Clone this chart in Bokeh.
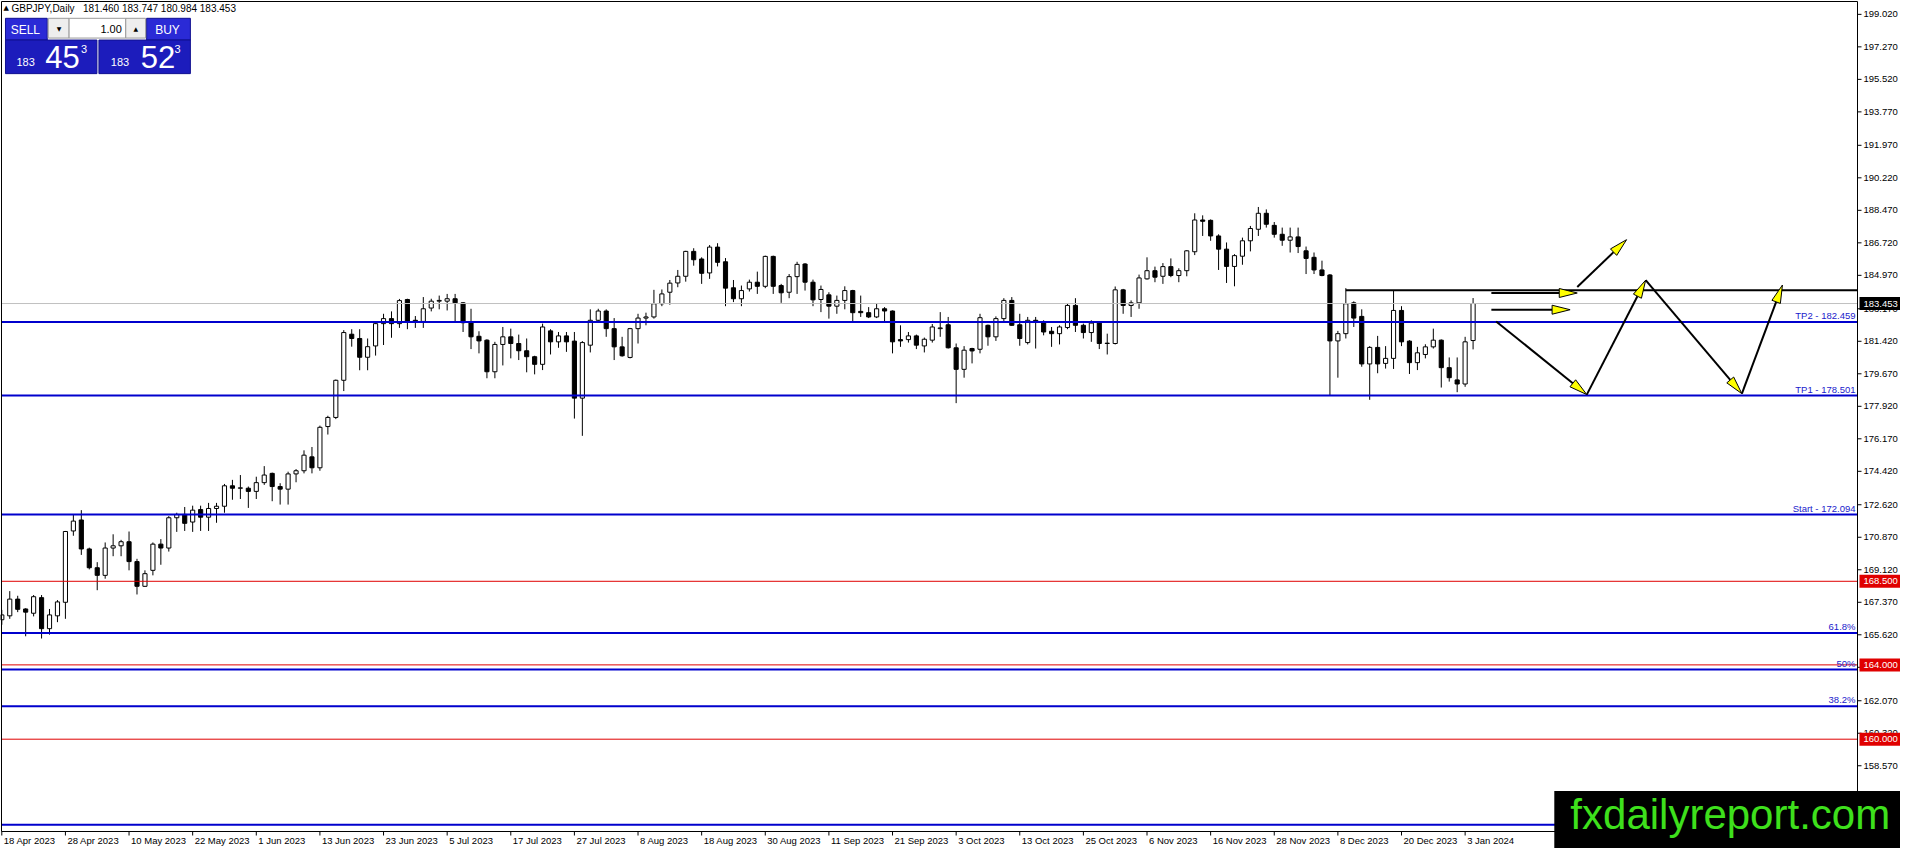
from bokeh.plotting import figure
from bokeh.models import Range1d, Label, BoxAnnotation, ColumnDataSource
from bokeh.embed import file_html
from bokeh.resources import INLINE

# ---------------- data ----------------
symbol = "GBPJPY"
timeframe = "Daily"

opens = [166.43, 166.64, 167.54, 167.01, 166.78, 167.62, 165.95, 166.64, 167.37, 171.21,
         171.80, 170.24, 169.23, 168.82, 170.29, 170.41, 170.63, 169.56, 168.23, 169.09,
         170.50, 170.29, 171.92, 172.10, 171.69, 172.36, 171.95, 172.42, 172.54, 173.64,
         173.51, 173.51, 173.34, 173.81, 174.31, 173.60, 173.46, 174.28, 174.45, 175.20,
         174.61, 176.83, 177.32, 179.32, 181.80, 181.57, 180.56, 181.17, 182.37, 182.64,
         182.37, 183.67, 182.55, 182.49, 183.21, 183.58, 183.58, 183.71, 183.49, 182.42,
         181.69, 181.48, 179.78, 181.25, 181.66, 181.30, 180.91, 180.59, 180.18, 181.98,
         181.39, 181.71, 181.43, 178.36, 181.21, 182.55, 183.05, 182.10, 181.12, 180.55,
         182.10, 182.67, 182.73, 183.44, 184.06, 184.56, 184.92, 186.26, 185.85, 185.10,
         186.49, 185.70, 184.30, 183.71, 184.24, 184.60, 184.38, 185.99, 184.42, 184.06,
         184.90, 185.58, 184.60, 183.67, 183.92, 183.31, 183.62, 184.15, 183.03, 182.96,
         182.73, 183.17, 183.05, 181.51, 181.51, 181.71, 181.17, 181.48, 182.10, 182.31,
         181.07, 179.91, 181.03, 180.99, 182.28, 181.66, 182.64, 183.62, 182.31, 181.35,
         182.55, 182.46, 181.96, 181.83, 182.16, 183.35, 182.28, 181.89, 182.40, 181.30,
         181.30, 184.19, 183.35, 183.49, 184.78, 185.22, 184.92, 185.44, 184.96, 185.22,
         186.24, 187.95, 187.93, 187.09, 186.38, 185.45, 186.00, 186.83, 187.45, 188.31,
         187.66, 187.18, 186.86, 187.04, 186.29, 185.94, 185.26, 184.99, 181.44, 181.83,
         183.49, 182.76, 180.20, 181.09, 180.23, 180.50, 183.08, 181.43, 180.27, 180.71,
         181.12, 181.48, 180.00, 179.34, 179.12, 181.460]
highs = [166.96, 167.97, 167.72, 167.05, 167.76, 167.76, 167.01, 167.49, 171.21, 172.10,
         172.33, 170.31, 169.53, 170.59, 171.03, 170.73, 171.18, 169.71, 169.09, 170.59,
         170.77, 172.01, 172.19, 172.50, 172.57, 172.57, 172.72, 172.72, 173.74, 173.96,
         174.22, 173.60, 174.13, 174.70, 174.35, 173.78, 174.40, 174.54, 175.55, 175.73,
         176.88, 177.41, 179.36, 182.02, 182.07, 182.07, 181.57, 182.42, 182.90, 183.03,
         183.70, 183.71, 182.78, 183.80, 183.71, 183.88, 183.97, 183.97, 183.53, 183.17,
         181.96, 181.53, 181.39, 182.19, 182.10, 181.78, 181.57, 180.64, 182.37, 182.07,
         181.92, 181.92, 181.92, 181.43, 183.14, 183.17, 183.14, 182.67, 181.66, 182.14,
         182.90, 182.96, 184.19, 184.21, 184.72, 185.26, 186.29, 186.43, 185.94, 186.60,
         186.70, 185.90, 184.72, 184.42, 184.74, 185.17, 186.03, 186.03, 184.51, 185.04,
         185.70, 185.63, 184.74, 184.42, 184.06, 183.88, 184.38, 184.19, 183.88, 183.26,
         183.44, 183.26, 183.08, 182.28, 181.92, 181.78, 181.62, 182.35, 182.99, 182.73,
         181.30, 181.16, 181.07, 182.90, 182.32, 182.76, 183.74, 183.80, 182.90, 182.73,
         182.73, 182.55, 182.19, 182.28, 183.44, 183.74, 182.37, 182.55, 182.46, 181.83,
         184.37, 184.24, 183.62, 185.01, 185.94, 185.44, 185.63, 185.88, 185.35, 186.33,
         188.31, 188.20, 187.98, 187.18, 186.74, 186.11, 187.00, 187.63, 188.65, 188.52,
         187.84, 187.54, 187.54, 187.54, 186.52, 186.20, 185.76, 185.04, 181.98, 184.28,
         183.57, 183.14, 181.16, 181.71, 181.16, 184.15, 183.31, 181.48, 181.12, 181.26,
         182.10, 181.52, 180.55, 180.55, 181.66, 183.747]
lows = [166.16, 166.48, 166.84, 165.54, 166.61, 165.42, 165.63, 166.30, 166.48, 170.95,
        169.92, 169.14, 168.02, 168.64, 169.85, 169.85, 169.09, 167.79, 168.20, 168.82,
        169.39, 170.10, 171.16, 171.21, 171.16, 171.21, 171.21, 171.65, 172.19, 172.89,
        172.93, 172.45, 172.93, 173.69, 172.81, 172.63, 172.63, 173.83, 174.31, 174.31,
        174.45, 176.40, 177.23, 178.74, 181.13, 179.86, 179.86, 180.65, 181.22, 181.61,
        182.14, 182.07, 182.14, 182.14, 183.03, 183.14, 183.08, 182.46, 181.92, 181.00,
        180.77, 179.43, 179.43, 180.12, 180.50, 180.41, 179.75, 179.64, 179.87, 180.71,
        181.07, 180.85, 177.26, 176.33, 180.82, 182.46, 181.66, 180.41, 180.59, 180.50,
        181.30, 182.28, 182.64, 183.31, 183.39, 184.33, 184.63, 185.49, 184.51, 184.78,
        185.45, 183.31, 183.53, 183.31, 184.10, 183.97, 184.28, 183.97, 183.49, 183.74,
        183.97, 184.15, 183.31, 182.99, 182.64, 182.90, 183.14, 182.46, 182.73, 182.67,
        182.67, 182.46, 180.77, 181.12, 181.35, 181.00, 180.82, 181.35, 181.66, 181.03,
        178.09, 179.46, 180.23, 180.77, 181.18, 181.44, 182.46, 182.25, 181.18, 181.25,
        181.03, 181.74, 181.12, 181.25, 182.07, 181.92, 181.57, 181.39, 181.00, 180.71,
        181.25, 182.90, 182.73, 183.17, 184.74, 184.60, 184.51, 184.87, 184.60, 184.92,
        186.06, 187.09, 186.83, 185.26, 184.56, 184.38, 185.54, 186.26, 187.09, 187.54,
        187.00, 186.56, 186.20, 186.17, 185.04, 185.04, 184.92, 178.50, 179.46, 181.57,
        182.19, 180.05, 178.27, 179.70, 179.95, 179.93, 181.16, 179.66, 179.87, 180.50,
        181.03, 178.93, 179.25, 178.68, 178.97, 180.984]
closes = [166.69, 167.54, 166.99, 166.84, 167.67, 165.95, 166.69, 167.39, 171.18, 171.74,
          170.24, 169.23, 168.82, 170.29, 170.41, 170.63, 169.56, 168.23, 168.91, 170.50,
          170.29, 171.92, 172.10, 171.62, 172.33, 171.95, 172.42, 172.54, 173.64, 173.51,
          173.53, 173.34, 173.81, 174.22, 173.60, 173.46, 174.28, 174.45, 175.29, 174.61,
          176.79, 177.32, 179.32, 181.89, 181.57, 180.56, 181.13, 182.37, 182.64, 182.37,
          183.61, 182.46, 182.46, 183.17, 183.58, 183.62, 183.71, 183.49, 182.42, 181.66,
          181.44, 179.78, 181.25, 181.66, 181.30, 180.91, 180.59, 180.18, 182.19, 181.39,
          181.71, 181.39, 178.36, 181.35, 182.55, 183.05, 182.10, 181.12, 180.64, 182.10,
          182.67, 182.73, 183.44, 183.97, 184.55, 184.92, 186.26, 185.81, 185.08, 186.49,
          185.67, 184.28, 183.71, 184.15, 184.60, 184.38, 185.99, 184.38, 184.03, 184.90,
          185.56, 184.60, 183.65, 184.21, 183.31, 183.62, 184.15, 182.96, 182.96, 182.73,
          183.17, 183.05, 181.39, 181.44, 181.71, 181.21, 181.53, 182.19, 182.14, 181.07,
          179.91, 180.94, 180.90, 182.69, 181.66, 182.64, 183.62, 182.28, 181.57, 182.55,
          182.46, 181.92, 181.83, 182.19, 183.35, 182.28, 181.89, 182.40, 181.30, 181.32,
          184.19, 183.35, 183.49, 184.83, 185.22, 184.87, 185.44, 184.96, 185.22, 186.29,
          187.95, 187.88, 187.09, 186.38, 185.45, 186.03, 186.83, 187.49, 188.31, 187.72,
          187.18, 186.86, 187.04, 186.52, 185.88, 185.26, 184.96, 181.44, 181.83, 183.44,
          182.67, 180.20, 181.09, 180.20, 180.50, 183.08, 181.39, 180.27, 180.80, 181.12,
          181.48, 180.00, 179.46, 179.12, 181.39, 183.453]

x_tick_labels = ["18 Apr 2023", "28 Apr 2023", "10 May 2023", "22 May 2023", "1 Jun 2023",
                 "13 Jun 2023", "23 Jun 2023", "5 Jul 2023", "17 Jul 2023", "27 Jul 2023",
                 "8 Aug 2023", "18 Aug 2023", "30 Aug 2023", "11 Sep 2023", "21 Sep 2023",
                 "3 Oct 2023", "13 Oct 2023", "25 Oct 2023", "6 Nov 2023", "16 Nov 2023",
                 "28 Nov 2023", "8 Dec 2023", "20 Dec 2023", "3 Jan 2024"]
bars_per_label = 8
y_tick_values = [199.020, 197.270, 195.520, 193.770, 191.970, 190.220, 188.470, 186.720,
                 184.970, 183.170, 181.420, 179.670, 177.920, 176.170, 174.420, 172.620,
                 170.870, 169.120, 167.370, 165.620, 163.870, 162.070, 160.320, 158.570]

ask_price = 183.523
lot_size = "1.00"

tp_levels = [182.459, 178.501, 172.094]
tp_names = ["TP2", "TP1", "Start"]
fib_low, fib_high = 155.40, 172.094
fib_ratios = [0.618, 0.5, 0.382]
fib_names = ["61.8%", "50%", "38.2%"]
round_levels = [168.500, 164.000, 160.000]
range_top_price = 184.17
range_top_bar = 169

# drawn arrows: (bar, price) -> (bar, price)
arrows = [
    (187.3, 184.02, 198.1, 184.02),
    (187.3, 183.12, 197.2, 183.12),
    (198.1, 184.34, 204.3, 186.89),
    (187.9, 182.49, 199.3, 178.55),
    (199.3, 178.55, 206.7, 184.71),
    (206.7, 184.71, 218.8, 178.60),
    (218.8, 178.60, 223.9, 184.45),
]

# ---------------- layout (whole canvas is the frame) ----------------
W, H = 1900, 848
PLOT_L, PLOT_T, PLOT_R, PLOT_B = 1.0, 1.0, 1857.0, 831.0
kx = (PLOT_R - PLOT_L) / (1870 - 3)      # reference pixel -> canvas pixel
ky = (PLOT_B - PLOT_T) / (843 - 3)


def cx(xr):
    return PLOT_L + (xr - 3) * kx


def cy(yr):
    return PLOT_T + (yr - 3) * ky


BAR_PX = 8 * kx
BAR0_PX = cx(3.3)
PPU = 18.8 * ky
P_REF, P_REF_PX = 199.02, cy(16)


def xd(c):           # canvas px -> bar index
    return (c - BAR0_PX) / BAR_PX


def yd(c):           # canvas px -> price
    return P_REF - (c - P_REF_PX) / PPU


def RX(xr):
    return xd(cx(xr))


def RY(yr):
    return yd(cy(yr))


XL, XR, YT, YB = xd(PLOT_L), xd(PLOT_R), yd(PLOT_T), yd(PLOT_B)

FONT = "Liberation Sans"
BLUE = "#0000cd"
TXT_BLUE = "#1a1acc"
RED = "#e00000"

p = figure(width=W, height=H, x_range=Range1d(xd(0), xd(W)), y_range=Range1d(yd(H), yd(0)),
           output_backend="svg", toolbar_location=None,
           x_axis_location=None, y_axis_location=None,
           min_border_left=0, min_border_right=0, min_border_top=0, min_border_bottom=0)
p.background_fill_color = "white"
p.border_fill_color = "white"
p.grid.visible = False
p.outline_line_color = None


def add_label(x, y, text, size="9.5px", color="black", align="left", baseline="middle",
              font=FONT, level="annotation"):
    p.add_layout(Label(x=x, y=y, text=text, text_font=font, text_font_size=size,
                       text_color=color, text_align=align, text_baseline=baseline,
                       level=level))


def add_box(l, r, t, b, fill, line=None, level="annotation", fill_alpha=1.0):
    p.add_layout(BoxAnnotation(left=l, right=r, top=t, bottom=b, fill_color=fill,
                               fill_alpha=fill_alpha, line_color=line,
                               line_alpha=1.0 if line else 0.0, line_width=1, level=level))


# ---------------- candles ----------------
idx = list(range(len(closes)))
up = [i for i in idx if closes[i] >= opens[i]]
dn = [i for i in idx if closes[i] < opens[i]]
src_up = ColumnDataSource(dict(x=up, o=[opens[i] for i in up], c=[closes[i] for i in up]))
src_dn = ColumnDataSource(dict(x=dn, o=[opens[i] for i in dn], c=[closes[i] for i in dn]))
p.segment(x0=idx, y0=lows, x1=idx, y1=highs, line_color="black", line_width=1)
p.vbar(x="x", width=0.52, bottom="o", top="c", source=src_up,
       fill_color="white", line_color="black", line_width=1)
p.vbar(x="x", width=0.52, bottom="c", top="o", source=src_dn,
       fill_color="black", line_color="black", line_width=1)

# ---------------- horizontal levels (inside the chart area only) ----------------
fib_levels = [fib_low + r * (fib_high - fib_low) for r in fib_ratios]
blue_lv = tp_levels + fib_levels + [fib_low]
p.segment(x0=[XL], x1=[XR], y0=[closes[-1]], y1=[closes[-1]], line_color="#c0c0c0", line_width=1)
p.segment(x0=[XL] * len(round_levels), x1=[XR] * len(round_levels), y0=round_levels,
          y1=round_levels, line_color=RED, line_width=1)
p.segment(x0=[XL] * len(blue_lv), x1=[XR] * len(blue_lv), y0=blue_lv, y1=blue_lv,
          line_color=BLUE, line_width=2)

# range top line
p.segment(x0=[range_top_bar], y0=[range_top_price], x1=[XR], y1=[range_top_price],
          line_color="black", line_width=2)

# ---------------- arrows ----------------
head_len, head_w = 18.0, 9.0
lx0, ly0, lx1, ly1, hxs, hys = [], [], [], [], [], []
for ax0, ay0, ax1, ay1 in arrows:
    vx, vy = (ax1 - ax0) * BAR_PX, (ay1 - ay0) * PPU
    L = (vx ** 2 + vy ** 2) ** 0.5
    ux, uy = vx / L, vy / L
    bx, by = ax1 * BAR_PX - head_len * ux, ay1 * PPU - head_len * uy
    nx, ny = -uy, ux
    lx0.append(ax0); ly0.append(ay0); lx1.append(bx / BAR_PX); ly1.append(by / PPU)
    hxs.append([ax1, (bx + nx * head_w / 2) / BAR_PX, (bx - nx * head_w / 2) / BAR_PX])
    hys.append([ay1, (by + ny * head_w / 2) / PPU, (by - ny * head_w / 2) / PPU])
p.segment(x0=lx0, y0=ly0, x1=lx1, y1=ly1, line_color="black", line_width=2)
p.patches(xs=hxs, ys=hys, fill_color="#ffff00", line_color="black", line_width=1)

# ---------------- chart border, axes ----------------
add_box(XL, XR, YT, YB, "white", "black", fill_alpha=0.0)

# price scale (right)
p.segment(x0=[XR] * len(y_tick_values), x1=[xd(PLOT_R + 4)] * len(y_tick_values),
          y0=y_tick_values, y1=y_tick_values, line_color="black", line_width=1)
for v in y_tick_values:
    add_label(xd(PLOT_R + 6), v, f"{v:.3f}")

# time scale (bottom)
x_ticks = [k * bars_per_label for k in range(len(x_tick_labels))]
p.segment(x0=x_ticks, x1=x_ticks, y0=[YB] * len(x_ticks), y1=[yd(PLOT_B + 4)] * len(x_ticks),
          line_color="black", line_width=1)
for t, lab in zip(x_ticks, x_tick_labels):
    add_label(t + 2 / BAR_PX, RY(852), lab)

# level labels
for name, lvl in zip(tp_names, tp_levels):
    add_label(xd(PLOT_R - 2), lvl + 0.8 / PPU, f"{name} - {lvl:.3f}", size="9.5px",
              color=TXT_BLUE, align="right", baseline="bottom")
for name, lvl in zip(fib_names, fib_levels):
    add_label(xd(PLOT_R - 2), lvl + 0.8 / PPU, name, size="9.5px",
              color=TXT_BLUE, align="right", baseline="bottom")

# price tags on the right scale
for lvl, col in [(closes[-1], "black")] + [(r, RED) for r in round_levels]:
    add_box(xd(PLOT_R + 2), xd(W + 2), lvl + 6.5 / PPU, lvl - 6.5 / PPU, col, level="overlay")
    add_label(xd(PLOT_R + 6), lvl, f"{lvl:.3f}", color="white", level="overlay")

# ---------------- header ----------------
add_label(RX(5), RY(10), "\u25b2", size="7px", font="DejaVu Sans")
add_label(RX(13), RY(10), f"{symbol},{timeframe}", size="10px")
add_label(RX(85), RY(10), " ".join(f"{v:.3f}" for v in (opens[-1], highs[-1], lows[-1], closes[-1])),
          size="10px")

# ---------------- one-click trading panel ----------------
PANEL_HEAD = "#2a2ad6"
PANEL_BODY = "#1c1cbc"
add_box(RX(7), RX(49), RY(20), RY(42), PANEL_HEAD, "#101090")
add_box(RX(149), RX(193), RY(20), RY(42), PANEL_HEAD, "#101090")
add_box(RX(50), RX(71), RY(20), RY(40), "#eeeeee", "#9a9a9a")
add_box(RX(71), RX(128), RY(20), RY(40), "white", "#9a9a9a")
add_box(RX(128), RX(148), RY(20), RY(40), "#eeeeee", "#9a9a9a")
add_box(RX(7), RX(99), RY(42), RY(76), PANEL_BODY, "#101090")
add_box(RX(101), RX(193), RY(42), RY(76), PANEL_BODY, "#101090")
add_label(RX(27), RY(31.5), "SELL", size="12px", color="white", align="center")
add_label(RX(170), RY(31.5), "BUY", size="12px", color="white", align="center")
add_label(RX(61), RY(30.5), "\u25bc", size="6px", font="DejaVu Sans", align="center")
add_label(RX(138), RY(30.5), "\u25b2", size="6px", font="DejaVu Sans", align="center")
add_label(RX(124), RY(31), lot_size, size="11px", align="right")

for price, x_big, x_pip, x_frac in [(closes[-1], 18, 47, 83), (ask_price, 113, 143, 177)]:
    s = f"{price:.3f}"
    big, pip, frac = s[:3], s[4:6], s[6]
    add_label(RX(x_big), RY(64), big, size="11px", color="white")
    add_label(RX(x_pip), RY(59), pip, size="31px", color="white")
    add_label(RX(x_frac), RY(51), frac, size="11px", color="white")

# ---------------- watermark ----------------
add_box(RX(1565), xd(W + 5), RY(802), yd(H + 5), "black", level="overlay")
add_label(RX(1742), RY(826), "fxdailyreport.com", size="42px", color="#3ee01c",
          align="center", level="overlay")

open("out.html", "w").write(file_html(p, INLINE, title="GBPJPY Daily"))
